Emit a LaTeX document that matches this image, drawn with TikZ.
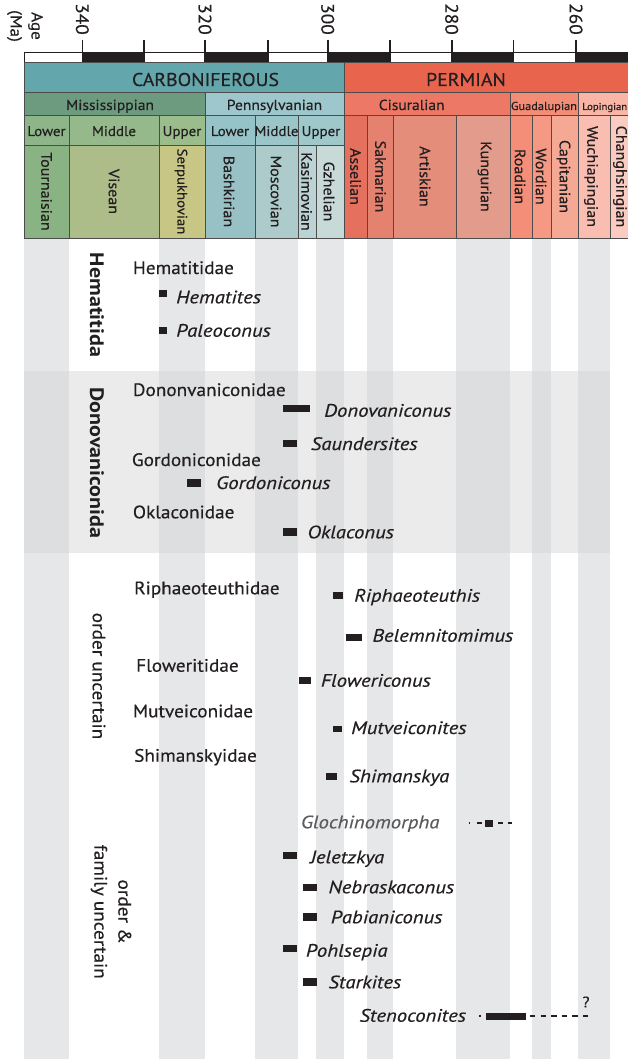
\documentclass[tikz,border=0pt]{standalone}
\usepackage{fontspec}
\setmainfont{PT Sans}[UprightFeatures={FakeStretch=1.07,FakeBold=0.4},ItalicFeatures={FakeStretch=1.15,FakeBold=0.4},BoldFeatures={FakeStretch=1.13}]
\definecolor{ktxt}{HTML}{231F20}
\definecolor{kcarb}{HTML}{63A6AB}
\definecolor{kperm}{HTML}{E8644C}
\definecolor{kmiss}{HTML}{6D9B7F}
\definecolor{kpenn}{HTML}{9DC7CC}
\definecolor{kmlow}{HTML}{8EB58A}
\definecolor{kmmid}{HTML}{95B98A}
\definecolor{kmupp}{HTML}{9BBC8B}
\definecolor{kplow}{HTML}{95C3C8}
\definecolor{kpmid}{HTML}{9AC5C9}
\definecolor{kpupp}{HTML}{9FC8CB}
\definecolor{ktou}{HTML}{8AB384}
\definecolor{kvis}{HTML}{ADBD89}
\definecolor{kser}{HTML}{C8C684}
\definecolor{kbas}{HTML}{98C1C6}
\definecolor{kmos}{HTML}{ADCBCB}
\definecolor{kkas}{HTML}{BBD3D4}
\definecolor{kgzh}{HTML}{C8DAD7}
\definecolor{kcis}{HTML}{EC7865}
\definecolor{kgua}{HTML}{F48D76}
\definecolor{klop}{HTML}{F9B5A5}
\definecolor{kass}{HTML}{E5705E}
\definecolor{ksak}{HTML}{E5816F}
\definecolor{kart}{HTML}{E48D7B}
\definecolor{kkun}{HTML}{E39B8C}
\definecolor{kroa}{HTML}{F48E79}
\definecolor{kwor}{HTML}{F59985}
\definecolor{kcapi}{HTML}{F5A893}
\definecolor{kwuc}{HTML}{F9BEB1}
\definecolor{kcha}{HTML}{FACCC1}
\definecolor{kstripe}{HTML}{E6E7E8}
\definecolor{kband}{HTML}{EBEBEC}
\definecolor{kbandstripe}{HTML}{DDDEDF}
\definecolor{kglo}{HTML}{5A5B5D}
\newcommand\hcell[5]{\filldraw[fill=#5, cellb] (#1,#2) rectangle (#3,#4);}
\begin{document}
\begin{tikzpicture}[x=1pt,y=-1pt,
  cellb/.style={draw=black!70, line width=0.8pt},
  hdr/.style={text=ktxt, inner sep=0pt},
  big/.style={hdr, font=\fontsize{18.5}{22}\selectfont, anchor=base},
  epo/.style={hdr, font=\fontsize{14.5}{18}\selectfont, anchor=base},
  subl/.style={hdr, font=\fontsize{14}{17}\selectfont, anchor=base},
  stg/.style={hdr, font=\fontsize{15}{17}\selectfont, rotate=-90},
  tkl/.style={hdr, font=\fontsize{18}{20}\selectfont, rotate=-90},
  fam/.style={text=ktxt, inner sep=0pt, font=\fontsize{18}{21}\selectfont, anchor=base west},
  gen/.style={fam, font=\fontsize{18}{21}\selectfont\itshape},
  ordr/.style={text=ktxt, inner sep=0pt, rotate=-90, font=\fontsize{19.5}{22}\selectfont\bfseries},
  ordn/.style={text=ktxt, inner sep=0pt, rotate=-90, align=center, font=\fontsize{18}{24}\selectfont},
  rng/.style={fill=ktxt},
  rngl/.style={draw=ktxt, line width=1.7pt},
]
\useasboundingbox (0,0) rectangle (628,1059);
\clip (0,0) rectangle (628,1059);
% background stripes and band
\foreach \a/\b in {24/69,159/205,255/298,316/344,367/393,456/510,532/551,578/610}
  \fill[kstripe] (\a,238) rectangle (\b,1059);
\fill[kband] (24,371) rectangle (610,553);
\foreach \a/\b in {24/69,159/205,255/298,316/344,367/393,456/510,532/551,578/610}
  \fill[kbandstripe] (\a,371) rectangle (\b,553);
% scale bar
\filldraw[fill=white, draw=ktxt, line width=0.8pt] (24,52) rectangle (640,62);
\foreach \a/\b in {82.3/144,205/267.7,327.7/390,451.7/513.3,576/640}
  \fill[ktxt] (\a,52) rectangle (\b,62);
\foreach \x in {82.3,144,205,267.7,327.7,390,451.7,513.3,576}
  \draw[ktxt, line width=1.6pt] (\x,40) -- (\x,62);
\node[tkl] (t340) at (82.3,19) {340};
\node[tkl] (t320) at (205,19) {320};
\node[tkl] (t300) at (327.7,19) {300};
\node[tkl] (t280) at (451.7,19) {280};
\node[tkl] (t260) at (576,19) {260};
\node[hdr, rotate=-90, align=center, font=\fontsize{16}{21}\selectfont] (age) at (25,26) {Age\\(Ma)};
% header row 1
\hcell{24}{62}{344}{92}{kcarb}
\hcell{344}{62}{640}{92}{kperm}
\node[big] (carb) at (205.5,86) {CARBONIFEROUS};
\node[big] (perm) at (466,86) {PERMIAN};
% row 2
\hcell{24}{92}{205}{115}{kmiss}
\hcell{205}{92}{344}{115}{kpenn}
\hcell{344}{92}{510}{115}{kcis}
\hcell{510}{92}{578}{115}{kgua}
\hcell{578}{92}{640}{115}{klop}
\node[epo] (miss) at (110,110) {Mississippian};
\node[epo] (penn) at (274.5,110) {Pennsylvanian};
\node[epo] (cis) at (411.7,110) {Cisuralian};
\node[epo, font=\fontsize{11.5}{14}\selectfont] (gua) at (544,110) {Guadalupian};
\node[epo, font=\fontsize{10}{12}\selectfont] (lop) at (604.7,110) {Lopingian};
% row 3
\hcell{24}{115}{69}{145}{kmlow}
\hcell{69}{115}{159}{145}{kmmid}
\hcell{159}{115}{205}{145}{kmupp}
\hcell{205}{115}{255}{145}{kplow}
\hcell{255}{115}{298}{145}{kpmid}
\hcell{298}{115}{344}{145}{kpupp}
\node[subl] (ml) at (46.5,136) {Lower};
\node[subl] (mm) at (114,136) {Middle};
\node[subl] (mu) at (182,136) {Upper};
\node[subl] (pl) at (230,136) {Lower};
\node[subl] (pm) at (276.5,136) {Middle};
\node[subl] (pu) at (321,136) {Upper};
% row 4 stages
\hcell{24}{145}{69}{238}{ktou}
\hcell{69}{145}{159}{238}{kvis}
\hcell{159}{145}{205}{238}{kser}
\hcell{205}{145}{255}{238}{kbas}
\hcell{255}{145}{298}{238}{kmos}
\hcell{298}{145}{316}{238}{kkas}
\hcell{316}{145}{344}{238}{kgzh}
\hcell{344}{115}{367}{238}{kass}
\hcell{367}{115}{393}{238}{ksak}
\hcell{393}{115}{456}{238}{kart}
\hcell{456}{115}{510}{238}{kkun}
\hcell{510}{115}{532}{238}{kroa}
\hcell{532}{115}{551}{238}{kwor}
\hcell{551}{115}{578}{238}{kcapi}
\hcell{578}{115}{610}{238}{kwuc}
\hcell{610}{115}{640}{238}{kcha}
\node[stg] (tou) at (46.5,191.5) {Tournaisian};
\node[stg] (vis) at (114,191.5) {Visean};
\node[stg, font=\fontsize{13.8}{16}\selectfont] (ser) at (181,191.5) {Serpukhovian};
\node[stg] (bas) at (229,191.5) {Bashkirian};
\node[stg] (mos) at (276,191.5) {Moscovian};
\node[stg] (kas) at (306.5,191.5) {Kasimovian};
\node[stg] (gzh) at (329,191.5) {Gzhelian};
\node[stg] (ass) at (355.5,176.5) {Asselian};
\node[stg] (sak) at (380.5,176.5) {Sakmarian};
\node[stg] (art) at (425,176.5) {Artiskian};
\node[stg] (kun) at (484.5,176.5) {Kungurian};
\node[stg] (roa) at (520,176.5) {Roadian};
\node[stg] (wor) at (541,176.5) {Wordian};
\node[stg] (capi) at (563.5,176.5) {Capitanian};
\node[stg] (wuc) at (591,176.5) {Wuchiapingian};
\node[stg] (cha) at (620,176.5) {Changhsingian};
% order labels
\node[ordr] (hemo) at (97,305) {Hematitida};
\node[ordr] (dono) at (97,463) {Donovaniconida};
\node[ordn] (unc) at (99,676) {order uncertain};
\node[ordn] (unc2) at (111,911.7) {order \&\\family uncertain};
% Hematitida
\node[fam] (hemf) at (132.7,274) {Hematitidae};
\fill[rng] (159,290) rectangle (166.5,297.3);
\node[gen] (hem) at (176,303.3) {Hematites};
\fill[rng] (159,326.7) rectangle (166.5,334);
\node[gen] (pal) at (176,336.7) {Paleoconus};
% Donovaniconida
\node[fam] (donf) at (132.7,396) {Dononvaniconidae};
\fill[rng] (282.7,405) rectangle (310,411.7);
\node[gen] (don) at (324,416.7) {Donovaniconus};
\fill[rng] (282.7,440) rectangle (297.3,446.7);
\node[gen] (sau) at (310.7,450) {Saundersites};
\node[fam] (gorf) at (131.7,466) {Gordoniconidae};
\fill[rng] (187.3,479.3) rectangle (200.7,486.7);
\node[gen] (gor) at (216,489) {Gordoniconus};
\node[fam] (oklf) at (132.7,518.3) {Oklaconidae};
\fill[rng] (282.7,528.3) rectangle (297.3,535.7);
\node[gen] (okl) at (307.3,538.3) {Oklaconus};
% order uncertain
\node[fam] (ripf) at (134,594.3) {Riphaeoteuthidae};
\fill[rng] (332.7,592.3) rectangle (343.3,599);
\node[gen] (rip) at (354,601.7) {Riphaeoteuthis};
\fill[rng] (345.7,633.5) rectangle (361.7,640.5);
\node[gen] (bel) at (372.3,641.7) {Belemnitomimus};
\node[fam] (flof) at (136,671.7) {Floweritidae};
\fill[rng] (299.3,676.7) rectangle (311,684);
\node[gen] (flo) at (320.7,686.7) {Flowericonus};
\node[fam] (mutf) at (132.7,717.3) {Mutveiconidae};
\fill[rng] (332.7,725.7) rectangle (341.7,732.3);
\node[gen] (mut) at (351,734) {Mutveiconites};
\node[fam] (shif) at (134,761.7) {Shimanskyidae};
\fill[rng] (325.7,773.3) rectangle (336.7,780);
\node[gen] (shi) at (349.3,782.3) {Shimanskya};
% order & family uncertain
\node[gen, text=kglo] (glo) at (300.7,828.3) {Glochinomorpha};
\draw[rngl] (469,823.3) -- (470.4,823.3);
\draw[rngl] (476.7,823.3) -- (481.7,823.3);
\fill[rng] (485,820) rectangle (493.3,826.7);
\draw[rngl] (498.3,823.3) -- (502.7,823.3);
\draw[rngl] (507.7,823.3) -- (512.3,823.3);
\fill[rng] (282.7,852.3) rectangle (297.3,859);
\node[gen] (jel) at (310,863.3) {Jeletzkya};
\fill[rng] (303.3,884) rectangle (317.3,890.7);
\node[gen] (neb) at (328.3,893.3) {Nebraskaconus};
\fill[rng] (303.3,913.3) rectangle (317.3,920.7);
\node[gen] (pab) at (330.7,923.3) {Pabianiconus};
\fill[rng] (282.7,945) rectangle (297.3,951.7);
\node[gen] (poh) at (305.7,956.7) {Pohlsepia};
\fill[rng] (303.3,978.3) rectangle (317.3,985.7);
\node[gen] (sta) at (328.3,988.3) {Starkites};
\node[gen] (ste) at (359.3,1021.7) {Stenoconites};
\draw[rngl] (479.3,1016.3) -- (480.7,1016.3);
\fill[rng] (486,1012.7) rectangle (525.7,1020);
\draw[rngl, dash pattern=on 5.3pt off 5.3pt] (530,1016.3) -- (588.3,1016.3);
\node[hdr, font=\fontsize{15}{18}\selectfont] (q) at (586,1002) {?};
\end{tikzpicture}
\end{document}
